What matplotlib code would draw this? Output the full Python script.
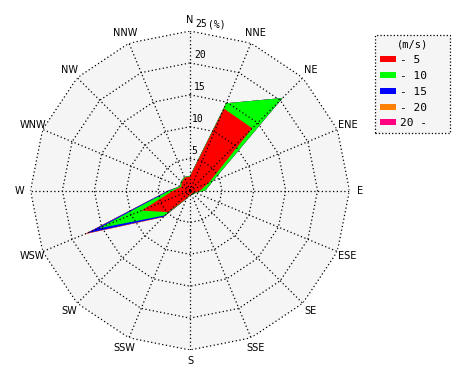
import numpy as np
import matplotlib.pyplot as plt
from matplotlib.patches import Patch

# wind directions, clockwise from north
directions = ['N', 'NNE', 'NE', 'ENE', 'E', 'ESE', 'SE', 'SSE',
              'S', 'SSW', 'SW', 'WSW', 'W', 'WNW', 'NW', 'NNW']

# frequency (%) per speed class and direction
spd_0_5 = [2.2, 13.9, 13.8, 3.2, 1.6, 0.9, 0.6, 0.6, 0.7, 1.3, 4.8, 8.2, 2.6, 1.5, 1.8, 2.2]
spd_5_10 = [0.1, 0.9, 6.7, 0.7, 0.8, 0.1, 0.2, 0.1, 0.1, 0.1, 0.7, 7.3, 0.6, 0.2, 0.2, 0.1]
spd_10_15 = [0.0, 0.0, 0.0, 0.0, 0.0, 0.0, 0.0, 0.0, 0.0, 0.0, 0.3, 2.1, 0.2, 0.0, 0.0, 0.0]
spd_15_20 = [0.0, 0.0, 0.0, 0.0, 0.0, 0.0, 0.0, 0.0, 0.0, 0.0, 0.1, 0.3, 0.0, 0.0, 0.0, 0.0]
spd_20_up = [0.0] * 16

classes = [spd_0_5, spd_5_10, spd_10_15, spd_15_20, spd_20_up]
class_labels = ['- 5', '- 10', '- 15', '- 20', '20 -']
colors = ['#ff0000', '#00ff00', '#0000ff', '#ff8000', '#ff0080']

rings = [5, 10, 15, 20, 25]
rmax = 25

font = 'DejaVu Sans Mono'
fs = 7

fig = plt.figure(figsize=(4.7, 3.8), dpi=100)
ax = fig.add_axes([0.0649, 0.0789, 0.6787, 0.8395], projection='polar')
ax.set_theta_zero_location('N')
ax.set_theta_direction(-1)
ax.set_ylim(0, rmax)
ax.grid(False)
ax.set_xticks([])
ax.set_yticks([])
ax.spines['polar'].set_visible(False)
ax.patch.set_visible(False)

theta = np.deg2rad(np.arange(16) * 22.5)
theta_c = np.append(theta, theta[0])

# grey background inside the outer ring
ax.fill(theta_c, [rmax] * 17, color='#f5f5f5', lw=0, zorder=0)

# stacked speed classes, outermost drawn first
cum = np.cumsum(np.array(classes), axis=0)
for i in range(len(classes) - 1, -1, -1):
    r = np.append(cum[i], cum[i][0])
    ax.fill(theta_c, r, color=colors[i], lw=0, zorder=2)

dots = (0, (1, 2))
for rr in rings:
    ax.plot(theta_c, [rr] * 17, color='black', lw=0.9, ls=dots, zorder=3)
    ax.text(np.deg2rad(2.0), rr + 0.4, str(rr), fontsize=fs, family=font,
            ha='left', va='bottom', zorder=4)
for t in theta:
    ax.plot([t, t], [0, rmax], color='black', lw=0.9, ls=dots, zorder=3)

ax.text(np.deg2rad(6.5), rmax + 0.45, '(%)', fontsize=fs, family=font,
        ha='left', va='bottom', clip_on=False)

for t, d in zip(theta, directions):
    ax.text(t, 26.7, d, fontsize=fs, family='DejaVu Sans', ha='center', va='center',
            clip_on=False)

handles = [Patch(facecolor=c, edgecolor='none') for c in colors]
leg = fig.legend(handles, class_labels, title='(m/s)', loc='upper left',
                 bbox_to_anchor=(0.798, 0.655, 0.159, 0.253), mode='expand',
                 prop={'family': font, 'size': 8},
                 title_fontproperties={'family': font, 'size': 7.5},
                 handlelength=1.45, handleheight=0.45, handletextpad=0.35,
                 labelspacing=0.52, borderpad=0.4, borderaxespad=0,
                 fancybox=False, framealpha=1)
frame = leg.get_frame()
frame.set_facecolor('#f5f5f5')
frame.set_edgecolor('black')
frame.set_linestyle(':')
frame.set_linewidth(0.9)

fig.savefig('out.png', dpi=100)
